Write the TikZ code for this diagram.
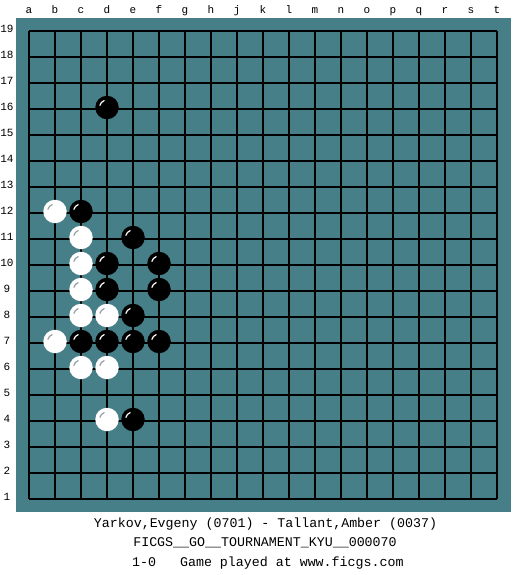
\documentclass[tikz,border=0pt]{standalone}
\usepackage{fontspec}
\setmainfont{Liberation Mono}
\definecolor{board}{RGB}{70,127,135}
\definecolor{wshine}{RGB}{150,160,165}
\begin{document}
\begin{tikzpicture}[x=1bp,y=-1bp,
  stone/.style={circle, minimum size=23.5bp, inner sep=0pt, draw=none},
  bstone/.style={stone, fill=black},
  wstone/.style={stone, fill=white},
  gridline/.style={line width=1.1bp, black},
  lbl/.style={font=\fontsize{11bp}{12bp}\selectfont, inner sep=0pt},
  caption/.style={font=\fontsize{13.3bp}{15bp}\selectfont, inner sep=0pt}]
\useasboundingbox (0,0) rectangle (525,575);
\fill[white] (0,0) rectangle (525,575);
\fill[board] (16,18) rectangle (511,512);
\foreach \i in {0,...,18} {
  \draw[gridline] (29+26*\i,31) -- (29+26*\i,499);
  \draw[gridline] (29,31+26*\i) -- (497,31+26*\i);
}
\foreach \c [count=\i from 0] in {a,b,c,d,e,f,g,h,j,k,l,m,n,o,p,q,r,s,t} {
  \node[lbl, anchor=base] (col\c) at (29+26*\i,14) {\c};
}
\foreach \n in {1,...,19} {
  \node[lbl] (row\n) at (7,31+26*19-26*\n-2) {\n};
}
\foreach \c/\r/\nm in {3/16/bd16,2/12/bc12,4/11/be11,3/10/bd10,5/10/bf10,3/9/bd9,5/9/bf9,4/8/be8,2/7/bc7,3/7/bd7,4/7/be7,5/7/bf7,4/4/be4} {
  \node[bstone] (\nm) at (29+26*\c,31+26*19-26*\r-1.5) {};
  \draw[white, line width=1.2bp] ([shift={(195:7.5)}]\nm.center) arc[start angle=195, end angle=250, radius=7.5];
}
\foreach \c/\r/\nm in {1/12/wb12,2/11/wc11,2/10/wc10,2/9/wc9,2/8/wc8,3/8/wd8,1/7/wb7,2/6/wc6,3/6/wd6,3/4/wd4} {
  \node[wstone] (\nm) at (29+26*\c,31+26*19-26*\r-1.5) {};
  \draw[wshine, line width=1.2bp] ([shift={(195:7.5)}]\nm.center) arc[start angle=195, end angle=250, radius=7.5];
}
\node[caption] (players) at (265.5,524) {Yarkov,Evgeny (0701) - Tallant,Amber (0037)};
\node[caption] (event) at (265,543) {FICGS\_\_GO\_\_TOURNAMENT\_KYU\_\_000070};
\node[caption, anchor=west] (result) at (132,563) {1-0\ \ \ Game played at www.ficgs.com};
\end{tikzpicture}
\end{document}
